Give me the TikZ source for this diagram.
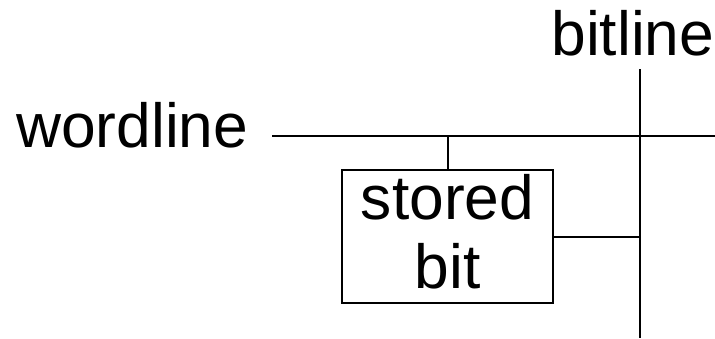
\documentclass[tikz,border=0pt]{standalone}
\usepackage{fontspec}
\setmainfont{Liberation Sans}
\begin{document}
\begin{tikzpicture}[x=1pt,y=-1pt,
  wire/.style={line width=2pt},
  cellbox/.style={draw,line width=2pt,minimum width=211pt,minimum height=133pt,inner sep=0pt},
  lbl/.style={inner sep=0pt,font=\fontsize{62.3}{69}\selectfont}]
\useasboundingbox (0,0) rectangle (715,338);
\node[lbl,anchor=base west] (wlabel) at (16,147) {wordline};
\node[lbl,anchor=base east] (blabel) at (714.5,55) {bitline};
\coordinate (wl0) at (272,136);
\coordinate (wl1) at (715,136);
\coordinate (bl0) at (640,69);
\coordinate (bl1) at (640,338);
\node[cellbox] (cell) at (447.5,236.5) {};
\node[lbl,anchor=base] (t1) at (447.5,219) {stored};
\node[lbl,anchor=base] (t2) at (447.5,288) {bit};
\draw[wire] (wl0) -- (wl1);
\draw[wire] (bl0) -- (bl1);
\draw[wire] (cell.north) -- (cell.north |- wl0);
\draw[wire] (cell.east) -- (bl0 |- cell.east);
\end{tikzpicture}
\end{document}
